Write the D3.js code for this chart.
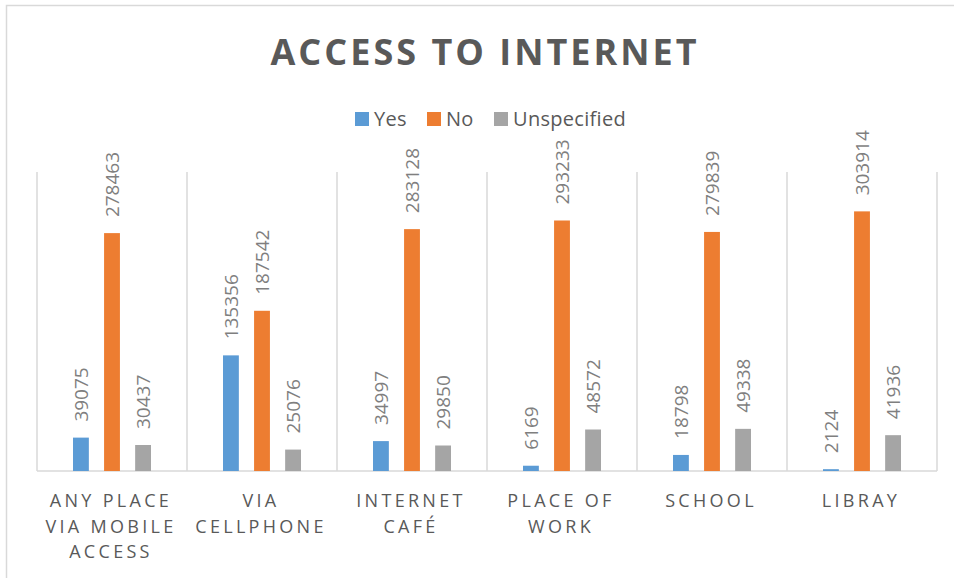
<!DOCTYPE html>
<html>
<head>
<meta charset="utf-8">
<script src="https://cdn.jsdelivr.net/npm/d3@7"></script>
<style>
  html, body { margin: 0; padding: 0; background: #fff; }
  svg { display: block; }
</style>
</head>
<body>
<svg id="chart" width="954" height="578"></svg>
<script>
// Access to internet, by place of access
const categories = [
  ["ANY PLACE", "VIA MOBILE", "ACCESS"],
  ["VIA", "CELLPHONE"],
  ["INTERNET", "CAFÉ"],
  ["PLACE OF", "WORK"],
  ["SCHOOL"],
  ["LIBRAY"]
];
const seriesNames = ["Yes", "No", "Unspecified"];
const yesValues = [39075, 135356, 34997, 6169, 18798, 2124];
const noValues = [278463, 187542, 283128, 293233, 279839, 303914];
const unspecifiedValues = [30437, 25076, 29850, 48572, 49338, 41936];
const seriesColors = ["#5B9BD5", "#ED7D31", "#A5A5A5"];
const yMax = 350000;

const svg = d3.select("#chart");
const W = 954, H = 578;
const plot = { left: 37, right: 937, top: 172, bottom: 471 };

// outer chart frame
svg.append("rect")
  .attr("x", 6.5).attr("y", 5.5)
  .attr("width", W + 20).attr("height", H + 20)
  .attr("fill", "none").attr("stroke", "#d9d9d9").attr("stroke-width", 1.5);

// title
svg.append("text")
  .attr("x", 485).attr("y", 65)
  .attr("text-anchor", "middle")
  .attr("font-family", "Open Sans, sans-serif")
  .attr("font-weight", "bold")
  .attr("font-size", 36)
  .attr("letter-spacing", 3)
  .attr("fill", "#595959")
  .text("ACCESS TO INTERNET");

// legend
const legendX = [355, 427, 494];
const legend = svg.append("g");
seriesNames.forEach((name, i) => {
  legend.append("rect")
    .attr("x", legendX[i]).attr("y", 112)
    .attr("width", 14).attr("height", 14)
    .attr("fill", seriesColors[i]);
  legend.append("text")
    .attr("x", legendX[i] + 19).attr("y", 126)
    .attr("font-family", "Open Sans, sans-serif")
    .attr("font-size", 20)
    .attr("letter-spacing", 0.3)
    .attr("fill", "#595959")
    .text(name);
});

// scales
const x0 = d3.scaleBand()
  .domain(d3.range(categories.length))
  .range([plot.left, plot.right])
  .paddingInner(0).paddingOuter(0);
const x1 = d3.scaleBand()
  .domain(seriesNames)
  .range([36, x0.bandwidth() - 36])
  .paddingInner(0.49).paddingOuter(0);
const y = d3.scaleLinear().domain([0, yMax]).range([plot.bottom, plot.top]);

// vertical category separators
const seps = d3.range(categories.length + 1).map(i => i === categories.length ? plot.right : x0(i));
svg.append("g").selectAll("line").data(seps).join("line")
  .attr("x1", d => d).attr("x2", d => d)
  .attr("y1", plot.top).attr("y2", plot.bottom)
  .attr("stroke", "#d9d9d9").attr("stroke-width", 1.5);

// category axis baseline
svg.append("line")
  .attr("x1", plot.left).attr("x2", plot.right)
  .attr("y1", plot.bottom).attr("y2", plot.bottom)
  .attr("stroke", "#d9d9d9").attr("stroke-width", 1.5);

// bars and value labels
const seriesValues = [yesValues, noValues, unspecifiedValues];
const rows = [];
categories.forEach((c, ci) => {
  seriesNames.forEach((s, si) => {
    rows.push({ ci, s, si, v: seriesValues[si][ci] });
  });
});

svg.append("g").selectAll("rect").data(rows).join("rect")
  .attr("x", d => x0(d.ci) + x1(d.s))
  .attr("y", d => y(d.v))
  .attr("width", x1.bandwidth())
  .attr("height", d => y(0) - y(d.v))
  .attr("fill", d => seriesColors[d.si]);

svg.append("g").selectAll("text").data(rows).join("text")
  .attr("transform", d => {
    const cx = x0(d.ci) + x1(d.s) + x1.bandwidth() / 2;
    return `translate(${cx},${y(d.v) - 16}) rotate(-90)`;
  })
  .attr("dy", "0.36em")
  .attr("font-family", "Open Sans, sans-serif")
  .attr("font-size", 19)
  .attr("fill", "#7f7f7f")
  .text(d => d.v);

// category labels
const catG = svg.append("g");
categories.forEach((lines, ci) => {
  const cx = x0(ci) + x0.bandwidth() / 2;
  const t = catG.append("text")
    .attr("text-anchor", "middle")
    .attr("font-family", "Open Sans, sans-serif")
    .attr("font-size", 18)
    .attr("letter-spacing", 3.3)
    .attr("fill", "#595959");
  lines.forEach((ln, li) => {
    t.append("tspan")
      .attr("x", cx - 1)
      .attr("y", 507 + li * 25.5)
      .text(ln);
  });
});
</script>
</body>
</html>
